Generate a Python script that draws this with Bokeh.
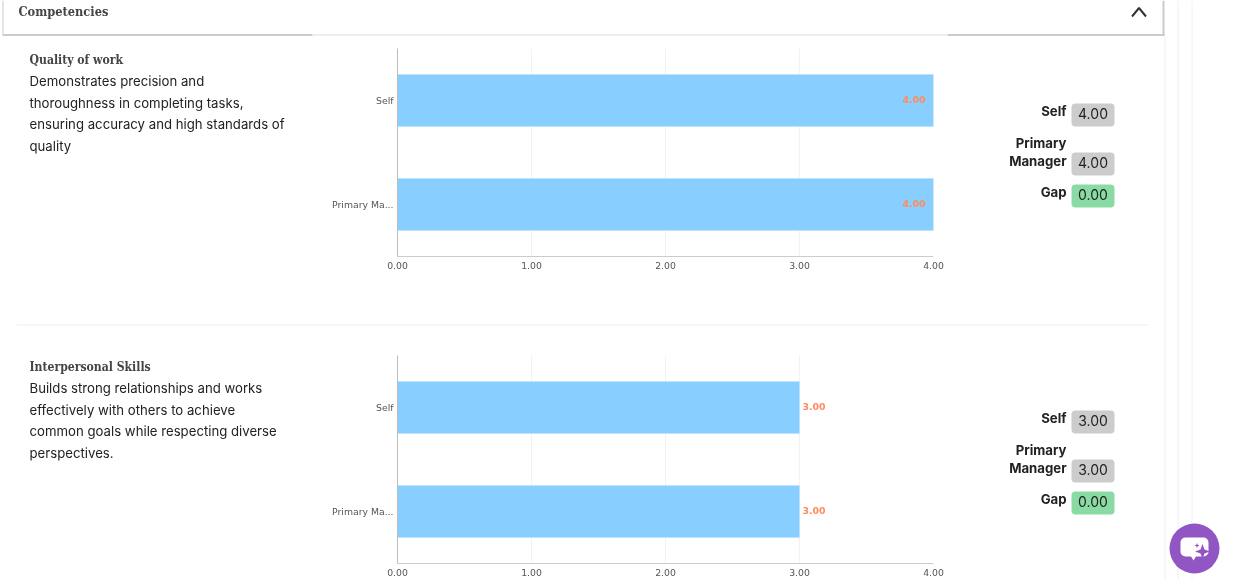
from bokeh.embed import file_html
from bokeh.resources import INLINE
from bokeh.plotting import figure
from bokeh.models import Range1d, FactorRange, ColumnDataSource, FixedTicker, BoxAnnotation
from bokeh.core.properties import value

categories = ["Self", "Primary Ma..."]
x_ticks = [0, 1, 2, 3, 4]
q_values = [4.0, 4.0]
i_values = [3.0, 3.0]
section_title = "Competencies"
q_title = "Quality of work"
q_lines = ["Demonstrates precision and", "thoroughness in completing tasks,",
           "ensuring accuracy and high standards of", "quality"]
i_title = "Interpersonal Skills"
i_lines = ["Builds strong relationships and works", "effectively with others to achieve",
           "common goals while respecting diverse", "perspectives."]
q_chips = ["4.00", "4.00", "0.00"]
i_chips = ["3.00", "3.00", "0.00"]

BODY = "Inter"
SERIF = "DejaVu Serif Condensed"
TICK = "DejaVu Sans"
BAR = "#88cfff"
BAR_EDGE = "#bde4ff"
LABEL = "#ff8a5c"
PURPLE = "#9155c4"
W, H = 1233, 579

bg = figure(width=W, height=H, x_range=Range1d(0, W), y_range=Range1d(H, 0),
            output_backend="svg", toolbar_location=None, min_border=0,
            x_axis_type=None, y_axis_type=None, outline_line_color=None)
bg.grid.visible = False
bg.styles = {"position": "fixed", "left": "0px", "top": "0px"}


def txt(x, y, s, size, color="#222222", font=BODY, style="normal", align="left"):
    bg.text([x], [y - 1], text=[s], text_font=value(font), text_font_size=f"{size}px",
            text_font_style=style, text_color=color, text_align=align, text_baseline="middle")


# page chrome
for xs, ys, c, w in [
    ([1177.5, 1177.5], [0, H], "#eeeeee", 1),
    ([1191.5, 1191.5], [0, H], "#f2f2f2", 1),
    ([1164.5, 1164.5], [35, H], "#f0f0f0", 1),
    ([2.5, 2.5], [0, 34], "#cccccc", 1),
    ([1163, 1163], [0, 35], "#cccccc", 2),
    ([2, 312], [34.5, 34.5], "#cccccc", 2),
    ([312, 947], [34.5, 34.5], "#dddddd", 1),
    ([947, 1164], [34.5, 34.5], "#cccccc", 2),
    ([16, 1148], [324.5, 324.5], "#eeeeee", 1),
    ([1131.5, 1138.5, 1145.5], [16, 7.5, 16], "#333333", 2),
]:
    bg.line(xs, ys, line_color=c, line_width=w)
txt(18, 12, section_title, 12.7, "#444444", SERIF, "bold")


def chips(offset, vals):
    rows = [(103, 126, "#cccccc"), (152, 175, "#cccccc"), (184, 207, "#8adba3")]
    for (t, b, c), v in zip(rows, vals):
        bg.add_layout(BoxAnnotation(left=1071, right=1114, top=t + offset, bottom=b + offset,
                                    fill_color=c, fill_alpha=1, line_color=None, border_radius=4,
                                    level="underlay"))
        txt(1092.5, (t + b) / 2 + offset - 1, v, 14, "#222222", BODY, "normal", "center")
    txt(1066, 111.5 + offset, "Self", 13.2, "#222222", BODY, "bold", "right")
    txt(1066, 143.5 + offset, "Primary", 13.2, "#222222", BODY, "bold", "right")
    txt(1066, 161.5 + offset, "Manager", 13.2, "#222222", BODY, "bold", "right")
    txt(1066, 192.5 + offset, "Gap", 13.2, "#222222", BODY, "bold", "right")


def left_block(offset, title, lines):
    txt(29, 60 + offset, title, 12.1, "#444444", SERIF, "bold")
    for y, s in zip((81, 103, 124, 146), lines):
        txt(29, y + offset, s, 13.2)


left_block(0, q_title, q_lines)
left_block(307, i_title, i_lines)
chips(0, q_chips)
chips(307, i_chips)

# chat button
bg.scatter([1194], [548], size=50, marker="circle", fill_color=PURPLE, line_color=None)
bg.quad(left=[1180], right=[1208], top=[537], bottom=[556], fill_color="white", line_color=None,
        border_radius=5)
bg.patch([1190, 1196, 1193], [555, 555, 560], fill_color="white", line_color=None)
bg.patch([1202, 1204, 1209.5, 1204, 1202, 1200, 1194.5, 1200],
         [543.5, 549, 551, 553, 558.5, 553, 551, 549], fill_color=PURPLE, line_color=None)
bg.patch([1196.5, 1197.2, 1199, 1197.2, 1196.5, 1195.8, 1194, 1195.8],
         [542.5, 544.3, 545, 545.7, 547.5, 545.7, 545, 544.3], fill_color=PURPLE, line_color=None)


def chart(vals, top, inside):
    p = figure(width=640, height=232, y_range=FactorRange(*categories[::-1], range_padding=0),
               x_range=Range1d(0, 4), output_backend="svg", toolbar_location=None,
               min_border_left=77, min_border_right=27, min_border_top=8, min_border_bottom=16,
               frame_width=536, frame_height=208, outline_line_color=None)
    p.styles = {"position": "fixed", "left": "320px", "top": f"{top}px"}
    p.background_fill_alpha = 0
    p.border_fill_alpha = 0
    p.ygrid.visible = False
    p.xgrid.grid_line_color = "#f2f2f2"
    p.xaxis.ticker = FixedTicker(ticks=x_ticks)
    p.xaxis.major_label_overrides = {t: f"{t:.2f}" for t in x_ticks}
    for ax in (p.xaxis, p.yaxis):
        ax.major_tick_out = 0
        ax.major_tick_in = 0
        ax.major_tick_line_color = None
        ax.minor_tick_line_color = None
        ax.major_label_text_font = TICK
        ax.major_label_text_font_size = "9.3px"
        ax.major_label_text_color = "#555555"
    p.xaxis.major_label_standoff = 5
    p.yaxis.major_label_standoff = 4
    p.xaxis.axis_line_color = "#cccccc"
    p.yaxis.axis_line_color = "#bbbbbb"
    src = ColumnDataSource(dict(y=categories, v=vals, t=[f"{v:.2f}" for v in vals]))
    p.hbar(y="y", right="v", left=0, height=0.5, source=src, fill_color=BAR, line_color=BAR_EDGE)
    p.text(x="v", y="y", text="t", source=src, text_font=value(TICK), text_font_size="9.3px",
           text_font_style="bold", text_color=LABEL, text_baseline="middle",
           text_align="right" if inside else "left", x_offset=-8 if inside else 3, y_offset=-1)
    return p


open("out.html", "w").write(file_html([bg, chart(q_values, 40, True), chart(i_values, 347, False)], INLINE))
